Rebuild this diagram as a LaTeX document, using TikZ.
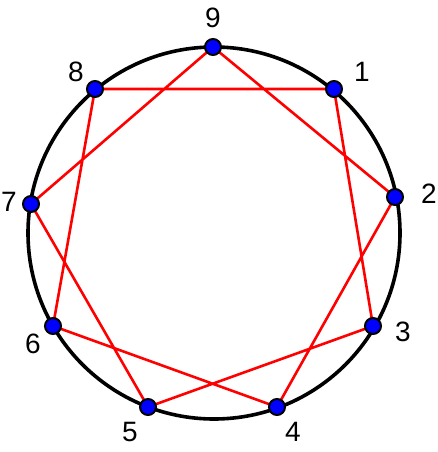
\documentclass[tikz,border=0pt]{standalone}
\usepackage{fontspec}
\setmainfont{Liberation Sans}
\begin{document}
\begin{tikzpicture}[x=1pt,y=-1pt,
  dot/.style={circle,fill=blue,draw=black,line width=2pt,inner sep=0pt,minimum size=16pt},
  lbl/.style={font=\fontsize{28}{30}\selectfont,inner sep=0pt},
  chord/.style={red,line width=2.6pt}]
\useasboundingbox (0,0) rectangle (438,452);
\draw[line width=3.6pt] (214,233) circle (186);
\coordinate (p9) at (213,47);
\coordinate (p1) at (334,89);
\coordinate (p2) at (395,197);
\coordinate (p3) at (373,326);
\coordinate (p4) at (277,407);
\coordinate (p5) at (148,407);
\coordinate (p6) at (53,326);
\coordinate (p7) at (31,204);
\coordinate (p8) at (95,89);
\draw[chord] (p1) -- (p3) -- (p5) -- (p7) -- (p9) -- (p2) -- (p4) -- (p6) -- (p8) -- cycle;
\foreach \i in {1,...,9} {\node[dot] (d\i) at (p\i) {};}
\node[lbl] (l9) at (213,18) {9};
\node[lbl] (l1) at (362,72) {1};
\node[lbl] (l2) at (429,194) {2};
\node[lbl] (l3) at (403,332) {3};
\node[lbl] (l4) at (293,432) {4};
\node[lbl] (l5) at (130,432) {5};
\node[lbl] (l6) at (33,344) {6};
\node[lbl] (l7) at (9,202) {7};
\node[lbl] (l8) at (76,72) {8};
\end{tikzpicture}
\end{document}
